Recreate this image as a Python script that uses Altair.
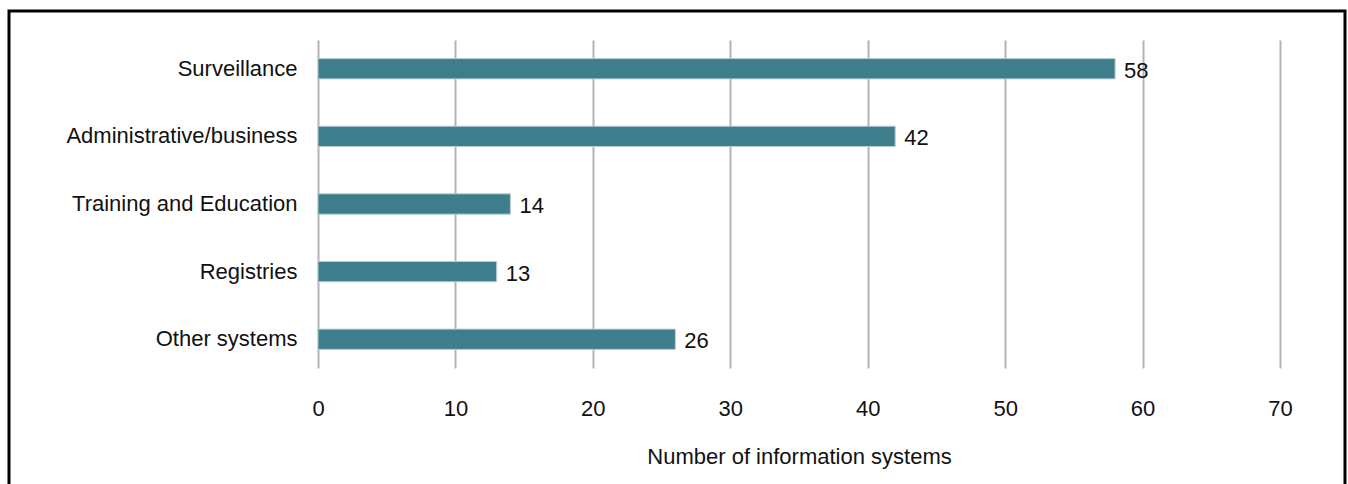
import altair as alt
import pandas as pd

categories = ["Surveillance", "Administrative/business", "Training and Education", "Registries", "Other systems"]
values = [58, 42, 14, 13, 26]
x_ticks = [0, 10, 20, 30, 40, 50, 60, 70]

df = pd.DataFrame({"category": categories, "value": values})
FONT = "Liberation Sans"
FS = 22

base = alt.Chart(df).encode(
    y=alt.Y("category:N", sort=categories,
            scale=alt.Scale(paddingInner=0.7, paddingOuter=0.275),
            axis=alt.Axis(title=None, ticks=False, domain=False, labelPadding=21,
                          labelFontSize=FS, labelFont=FONT, labelColor="#111111",
                          labelLimit=400)),
)

bars = base.mark_bar(color="#3d7d8c", stroke="#b8cdd3", strokeWidth=1).encode(
    x=alt.X("value:Q",
            scale=alt.Scale(domain=[0, 70], nice=False),
            axis=alt.Axis(values=x_ticks, title="Number of information systems",
                          grid=True, gridColor="#b3b3b3", gridWidth=2,
                          ticks=False, domain=False, labelPadding=30, labelFlush=False,
                          labelFontSize=FS, labelFont=FONT, labelColor="#111111",
                          titleFontSize=FS, titleFont=FONT, titleFontWeight="normal",
                          titleColor="#111111", titlePadding=27))
)

labels = base.mark_text(align="left", baseline="middle", dx=9, dy=2,
                        fontSize=FS, font=FONT, color="#111111").encode(
    x="value:Q", text="value:Q"
)

frame = alt.Chart(pd.DataFrame({"a": [0]})).mark_rect(
    fill=None, stroke="#000000", strokeWidth=3, clip=False
).encode(
    x=alt.value(-309), x2=alt.value(1027), y=alt.value(-29), y2=alt.value(540)
)

chart = alt.layer(bars, labels, frame).properties(
    width=962, height=328,
    autosize=alt.AutoSizeParams(type="none"),
    padding={"left": 318, "top": 40, "right": 68, "bottom": 116},
    background="white",
).configure_view(stroke=None)

chart.save("out.html", embed_options={"renderer": "svg", "actions": False})
